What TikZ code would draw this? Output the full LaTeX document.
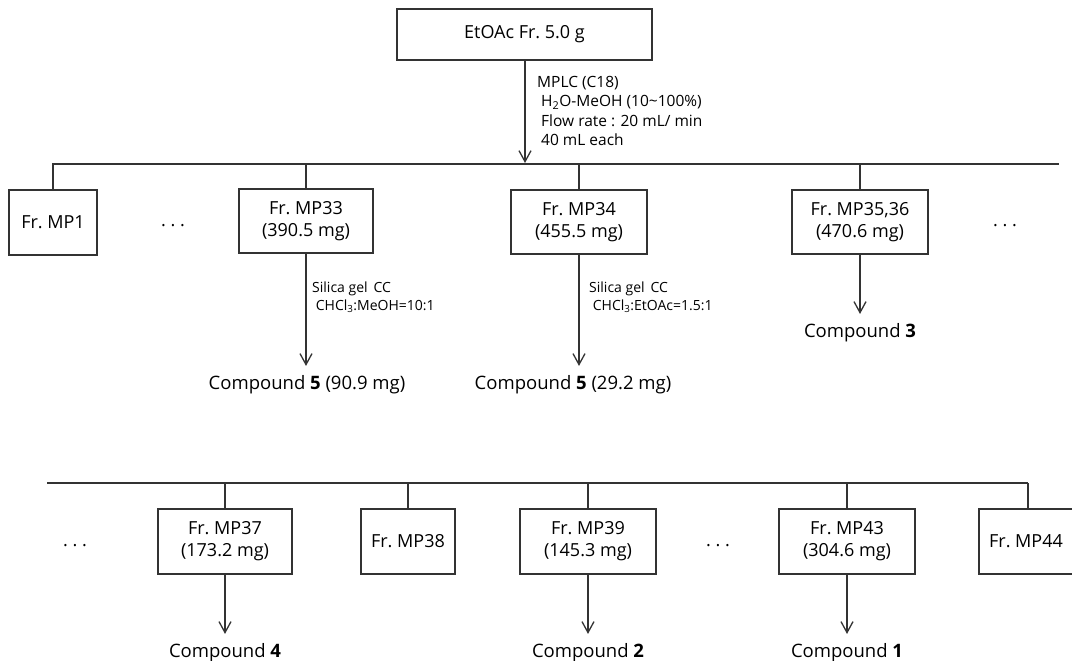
\documentclass[tikz,border=0pt]{standalone}
\usepackage{fontspec}
\setmainfont{Open Sans}
\usetikzlibrary{arrows.meta}
\definecolor{linec}{HTML}{333333}
\newcommand\boxfont{\fontsize{18}{22}\selectfont}
\newcommand\cmpfont{\fontsize{18.5}{22}\selectfont}
\newcommand\lblfont{\fontsize{15.5}{19.5}\selectfont}
\newcommand\smlfont{\fontsize{14}{18}\selectfont}
\begin{document}
\begin{tikzpicture}[x=1pt,y=-1pt,
  box/.style={draw=linec, line width=1.3pt, inner sep=0pt, align=center, font=\boxfont, text=black},
  ln/.style={draw=linec, line width=1.3pt},
  arr/.style={ln, -{Straight Barb[length=11pt,width=12pt]}},
  cmp/.style={font=\cmpfont, inner sep=0pt, outer ysep=9pt, anchor=base},
  lbl/.style={font=\lblfont, align=left, inner sep=0pt, anchor=north west},
  sml/.style={font=\smlfont, align=left, inner sep=0pt, anchor=north west},
  dots/.style={font=\boxfont, inner sep=0pt, anchor=base}]
\useasboundingbox (0,0) rectangle (1072,661);
\fill[white] (0,0) rectangle (1072,661);

% top
\node[box, minimum width=255pt, minimum height=51pt] (top) at (524.5,34.5) {EtOAc Fr.\ 5.0 g};
\coordinate (t1) at (525,163);
\draw[arr] (top.south -| t1) -- (t1);
\node[lbl] (mplc) at (537,76) {MPLC (C18)\\[0pt]\ H\textsubscript{2}O-MeOH (10\textasciitilde100\%)\\\ Flow rate : 20 mL/ min\\\ 40 mL each};

% first row line
\coordinate (l1a) at (52,164);
\coordinate (l1b) at (1059,164);
\draw[ln] (l1a) -- (l1b);

\node[box, minimum width=88pt, minimum height=65pt] (mp1) at (53,222.5) {Fr.\ MP1};
\node[dots] (d1) at (173,226) {.\ .\ .};
\node[box, minimum width=134pt, minimum height=64pt] (mp33) at (306,221) {Fr.\ MP33\\(390.5 mg)};
\node[box, minimum width=136pt, minimum height=64pt] (mp34) at (579,222) {Fr.\ MP34\\(455.5 mg)};
\node[box, minimum width=136pt, minimum height=64pt] (mp35) at (860,222) {Fr.\ MP35,36\\(470.6 mg)};
\node[dots] (d2) at (1005,226) {.\ .\ .};

\foreach \n in {mp1,mp33,mp34,mp35}
  \draw[ln] (\n.north) -- (\n.north |- l1a);

% first row compounds
\node[cmp] (c5a) at (307,389) {Compound \textbf{5} (90.9 mg)};
\node[cmp] (c5b) at (573,389) {Compound \textbf{5} (29.2 mg)};
\node[cmp] (c3) at (860,337) {Compound \textbf{3}};
\draw[arr] (mp33.south) -- (mp33.south |- c5a.north);
\draw[arr] (mp34.south) -- (mp34.south |- c5b.north);
\draw[arr] (mp35.south) -- (mp35.south |- c3.north);

\node[sml] (s1) at (312,282) {Silica gel\,\ CC\\\ CHCl\textsubscript{3}:MeOH=10:1};
\node[sml] (s2) at (589,282) {Silica gel\,\ CC\\\ CHCl\textsubscript{3}:EtOAc=1.5:1};

% second row line
\coordinate (l2a) at (47,483);
\coordinate (l2b) at (1028,483);
\draw[ln] (l2a) -- (l2b);

\node[dots] (d3) at (75,546) {.\ .\ .};
\node[box, minimum width=134pt, minimum height=65pt] (mp37) at (225,541.5) {Fr.\ MP37\\(173.2 mg)};
\node[box, minimum width=94pt, minimum height=65pt] (mp38) at (408,541.5) {Fr.\ MP38};
\node[box, minimum width=136pt, minimum height=65pt] (mp39) at (588,541.5) {Fr.\ MP39\\(145.3 mg)};
\node[dots] (d4) at (718,546) {.\ .\ .};
\node[box, minimum width=136pt, minimum height=65pt] (mp43) at (847,541.5) {Fr.\ MP43\\(304.6 mg)};
\node[box, minimum width=94pt, minimum height=65pt] (mp44) at (1026,541.5) {Fr.\ MP44};

\foreach \n in {mp37,mp38,mp39,mp43}
  \draw[ln] (\n.north) -- (\n.north |- l2a);
\draw[ln] (l2b) -- (l2b |- mp44.north);

\node[cmp] (c4) at (225,657) {Compound \textbf{4}};
\node[cmp] (c2) at (588,657) {Compound \textbf{2}};
\node[cmp] (c1) at (847,657) {Compound \textbf{1}};
\draw[arr] (mp37.south) -- (mp37.south |- c4.north);
\draw[arr] (mp39.south) -- (mp39.south |- c2.north);
\draw[arr] (mp43.south) -- (mp43.south |- c1.north);
\end{tikzpicture}
\end{document}
